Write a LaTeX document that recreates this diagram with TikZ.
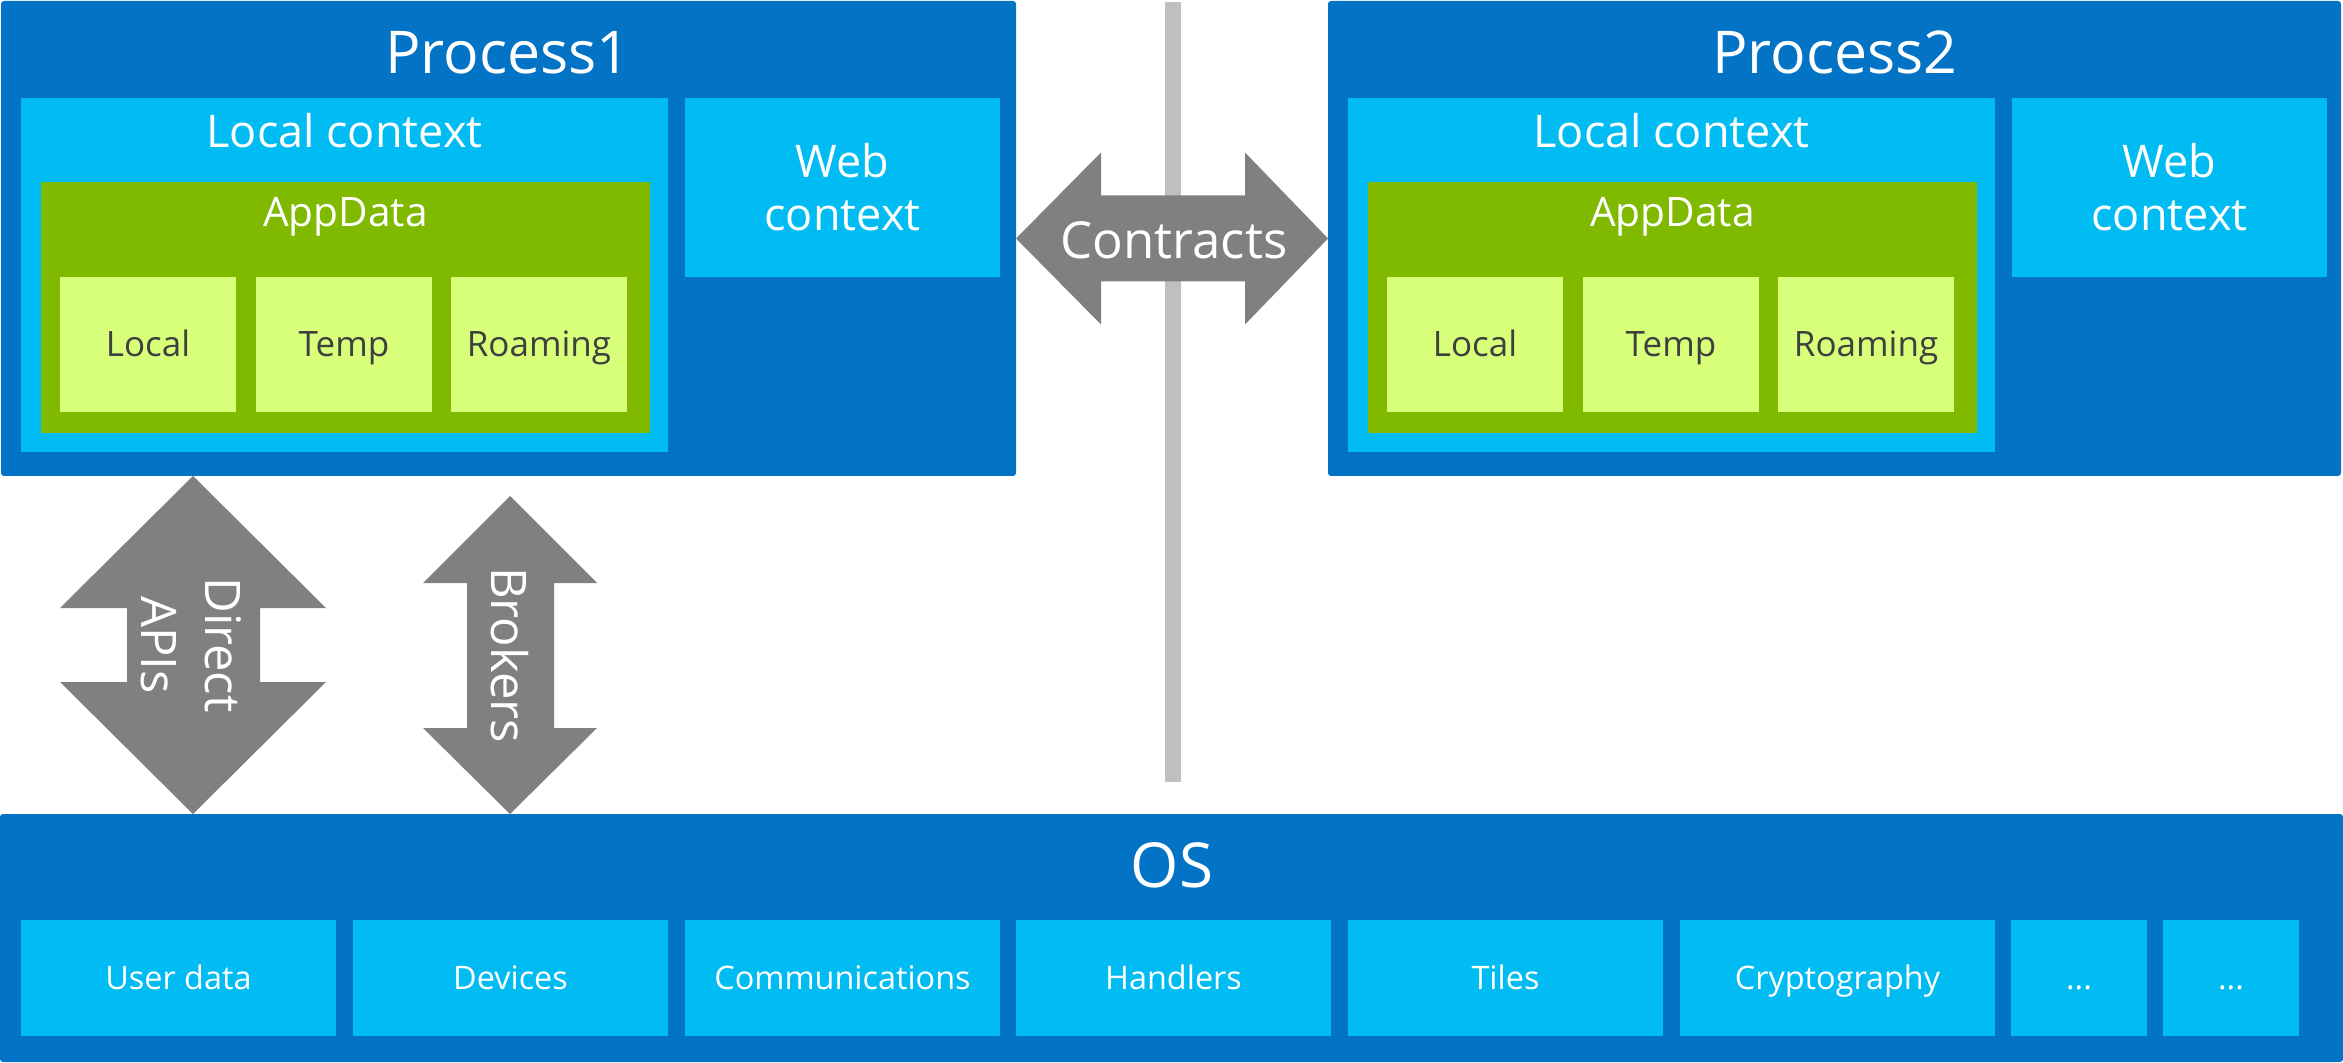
\documentclass[tikz,border=0pt]{standalone}
\usepackage{fontspec}
\setmainfont{Open Sans}
\usetikzlibrary{calc}
\definecolor{procblue}{HTML}{0373C6}
\definecolor{ctxblue}{HTML}{00BCF2}
\definecolor{appgreen}{HTML}{7FBA00}
\definecolor{palegreen}{HTML}{D7FF7A}
\definecolor{arrowgray}{HTML}{808080}
\definecolor{linegray}{HTML}{BFBFBF}
\definecolor{darktext}{HTML}{3F3F3F}
% #1 name, #2 style, #3 x1, #4 y1, #5 x2, #6 y2, #7 text
\newcommand{\boxnode}[7]{\node[#2, minimum width={(#5-#3)*0.5pt}, minimum height={(#6-#4)*0.5pt}] (#1) at ({(#3+#5)/2},{(#4+#6)/2}) {#7};}
\tikzset{
  anybox/.style={rectangle, inner sep=0pt, outer sep=0pt, draw=none},
  procbox/.style={anybox, fill=procblue, rounded corners=1.5pt},
  ctxbox/.style={anybox, fill=ctxblue},
  webbox/.style={anybox, fill=ctxblue, text=white, align=center, font=\fontsize{22.5}{26.5}\selectfont},
  appbox/.style={anybox, fill=appgreen},
  storebox/.style={anybox, fill=palegreen, text=darktext, font=\fontsize{17.5}{21}\selectfont, text height=13pt, text depth=0.5pt},
  osbox/.style={anybox, fill=ctxblue, text=white, font=\fontsize{16.2}{20}\selectfont, text height=12pt, text depth=1pt},
  seprule/.style={anybox, fill=linegray},
  lbl/.style={anchor=base, inner sep=0pt, text=white},
  bigarrow/.style={fill=arrowgray, draw=none},
  arrowtext/.style={inner sep=0pt, text=white, rotate=-90, align=center, font=\fontsize{24.5}{32}\selectfont},
}
\begin{document}
\begin{tikzpicture}[x=0.5pt, y=-0.5pt]
\useasboundingbox (0,0) rectangle (2343,1063);
\fill[white] (0,0) rectangle (2343,1063);

% separator line
\boxnode{sep}{seprule}{1165}{2}{1181}{782}{}

% Process 1
\boxnode{p1}{procbox}{1}{1}{1016}{476}{}
\boxnode{p1lc}{ctxbox}{21}{98}{668}{452}{}
\boxnode{p1ad}{appbox}{41}{182}{650}{433}{}
\boxnode{p1loc}{storebox}{60}{277}{236}{412}{Local}
\boxnode{p1tmp}{storebox}{256}{277}{432}{412}{Temp}
\boxnode{p1roam}{storebox}{451}{277}{627}{412}{Roaming}
\boxnode{p1web}{webbox}{685}{98}{1000}{277}{Web\\context}
\node[lbl, font=\fontsize{29.5}{35}\selectfont] (p1title) at (508,74) {Process1};
\node[lbl, font=\fontsize{22.5}{27}\selectfont] (p1lctitle) at (344.5,148) {Local context};
\node[lbl, font=\fontsize{20.3}{24}\selectfont] (p1adtitle) at (345.5,227) {AppData};

% Process 2
\boxnode{p2}{procbox}{1328}{1}{2341}{476}{}
\boxnode{p2lc}{ctxbox}{1348}{98}{1995}{452}{}
\boxnode{p2ad}{appbox}{1368}{182}{1977}{433}{}
\boxnode{p2loc}{storebox}{1387}{277}{1563}{412}{Local}
\boxnode{p2tmp}{storebox}{1583}{277}{1759}{412}{Temp}
\boxnode{p2roam}{storebox}{1778}{277}{1954}{412}{Roaming}
\boxnode{p2web}{webbox}{2012}{98}{2327}{277}{Web\\context}
\node[lbl, font=\fontsize{29.5}{35}\selectfont] (p2title) at (1835,74) {Process2};
\node[lbl, font=\fontsize{22.5}{27}\selectfont] (p2lctitle) at (1671.5,148) {Local context};
\node[lbl, font=\fontsize{20.3}{24}\selectfont] (p2adtitle) at (1672.5,227) {AppData};

% OS
\boxnode{os}{procbox}{0}{814}{2343}{1062}{}
\node[lbl, font=\fontsize{31}{36}\selectfont] (ostitle) at (1172,887) {OS};
\boxnode{os1}{osbox}{21}{920}{336}{1036}{User data}
\boxnode{os2}{osbox}{353}{920}{668}{1036}{Devices}
\boxnode{os3}{osbox}{685}{920}{1000}{1036}{Communications}
\boxnode{os4}{osbox}{1016}{920}{1331}{1036}{Handlers}
\boxnode{os5}{osbox}{1348}{920}{1663}{1036}{Tiles}
\boxnode{os6}{osbox}{1680}{920}{1995}{1036}{Cryptography}
\boxnode{os7}{osbox}{2011}{920}{2147}{1036}{...}
\boxnode{os8}{osbox}{2163}{920}{2299}{1036}{...}

% Contracts arrow between the processes
\coordinate (ctL) at (p1.east);
\coordinate (ctR) at (p2.west);
\path[bigarrow] (ctL) -- ($(ctL)+(85,-86)$) -- ($(ctL)+(85,-43)$) -- ($(ctR)+(-83,-43)$) -- ($(ctR)+(-83,-86)$) -- (ctR)
  -- ($(ctR)+(-83,86)$) -- ($(ctR)+(-83,43)$) -- ($(ctL)+(85,43)$) -- ($(ctL)+(85,86)$) -- cycle;
\node[lbl, font=\fontsize{25.5}{30}\selectfont] (contracts) at (1174,259) {Contracts};

% Direct APIs arrow
\coordinate (daT) at (p1.south -| 193,0);
\coordinate (daB) at (os.north -| 193,0);
\path[bigarrow] (daT) -- ($(daT)+(133,132)$) -- ($(daT)+(67,132)$) -- ($(daB)+(67,-132)$) -- ($(daB)+(133,-132)$) -- (daB)
  -- ($(daB)+(-133,-132)$) -- ($(daB)+(-66,-132)$) -- ($(daT)+(-66,132)$) -- ($(daT)+(-133,132)$) -- cycle;
\node[arrowtext] (directapis) at (191,645) {Direct\\APIs};

% Brokers arrow
\coordinate (brT) at (510,496);
\coordinate (brB) at (os.north -| 510,0);
\path[bigarrow] (brT) -- ($(brT)+(87,87)$) -- ($(brT)+(44,87)$) -- ($(brB)+(44,-86)$) -- ($(brB)+(87,-86)$) -- (brB)
  -- ($(brB)+(-87,-86)$) -- ($(brB)+(-43,-86)$) -- ($(brT)+(-43,87)$) -- ($(brT)+(-87,87)$) -- cycle;
\node[arrowtext] (brokers) at (510,655) {Brokers};
\end{tikzpicture}
\end{document}
